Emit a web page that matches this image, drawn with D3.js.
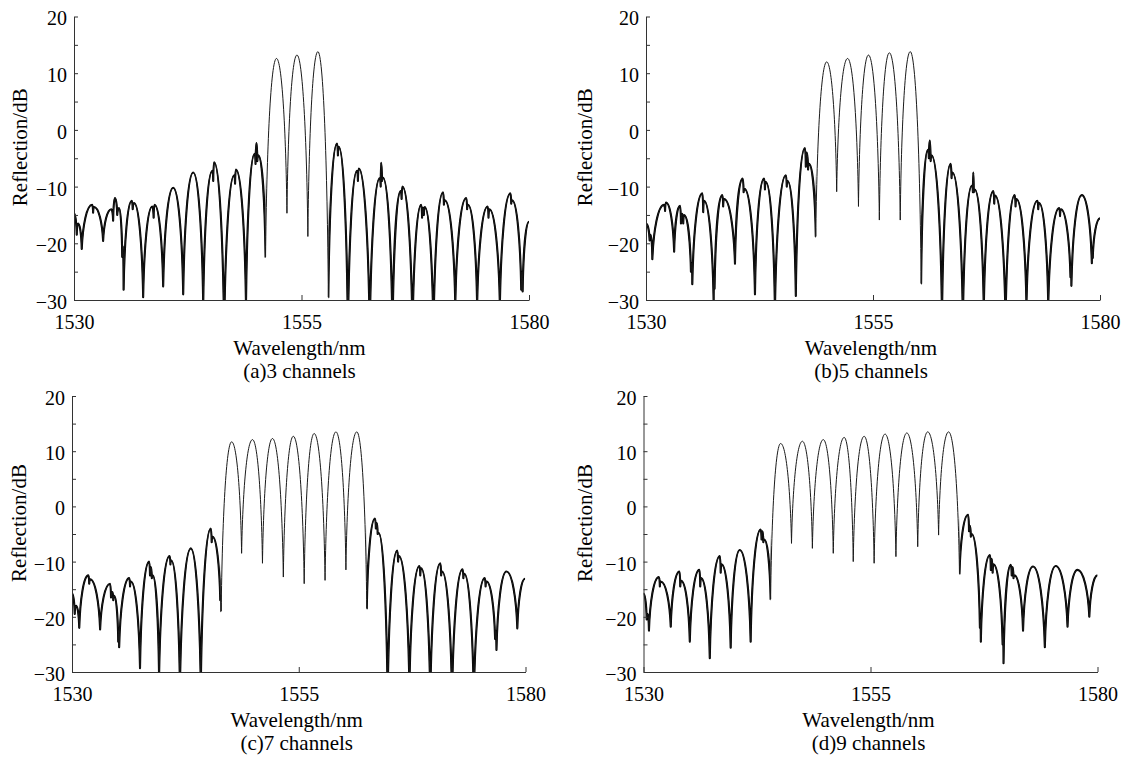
<!DOCTYPE html>
<html>
<head>
<meta charset="utf-8">
<script src="https://cdn.jsdelivr.net/npm/d3@7"></script>
<style>
  body { margin: 0; background: #fff; }
  svg { display: block; }
  text { font-family: "Liberation Serif", "Times New Roman", serif; fill: #000; }
  .tick text { font-size: 20px; }
  .axis path, .axis line { stroke: #333; stroke-width: 1; }
  .spectrum { fill: none; stroke: #1a1a1a; stroke-width: 1; stroke-linejoin: round; }
  .noisy { fill: none; stroke: #000; stroke-width: 2.1; stroke-linejoin: round; }
</style>
</head>
<body>
<svg id="chart" width="1131" height="759"></svg>
<script>
// axis setup shared by all four panels
const wlDomain = [1530, 1580];
const dbDomain = [-30, 20];
const xTicks = [1530, 1555, 1580];
const yTicks = [-30, -25, -20, -15, -10, -5, 0, 5, 10, 15, 20];
const xTitle = 'Wavelength/nm';
const yTitle = 'Reflection/dB';
const captions = ['(a)3 channels', '(b)5 channels', '(c)7 channels', '(d)9 channels'];

// wavelength span of the clean channel lobes (outside it the trace is noisy)
const passbands = [[1551.05, 1557.95], [1548.7, 1560.3], [1546.4, 1562.5], [1544.0, 1564.8]];

// reflection spectra [wavelength nm, dB], read as alternating maxima / minima
const spec3 = [
  [1530.0, -14.7], [1530.3, -18.5], [1530.45, -16.5], [1530.85, -21.0],
  [1532.0, -13.2], [1532.1, -14.6], [1532.2, -13.6],
  [1533.2, -19.6],
  [1534.1, -14.0], [1534.3, -16.0], [1534.5, -12.0], [1534.75, -15.0], [1534.95, -13.8],
  [1535.3, -22.4], [1535.38, -20.5], [1535.45, -28.2],
  [1536.35, -12.5], [1536.45, -14.0], [1536.6, -12.9],
  [1537.6, -29.5],
  [1538.6, -13.5], [1538.75, -15.5], [1538.85, -13.2],
  [1539.8, -27.6],
  [1540.9, -10.2],
  [1542.0, -29.0],
  [1543.1, -7.5],
  [1544.2, -31.0],
  [1545.2, -7.2], [1545.3, -9.0], [1545.4, -5.7],
  [1546.5, -36.0],
  [1547.6, -8.0], [1547.7, -9.5], [1547.8, -7.0],
  [1548.9, -31.0],
  [1549.85, -4.2], [1549.95, -6.0], [1550.05, -2.3], [1550.15, -5.5], [1550.25, -4.5],
  [1551.05, -22.4],
  [1552.25, 12.6],
  [1553.4, -14.7],
  [1554.5, 13.2],
  [1555.7, -18.8],
  [1556.8, 13.8],
  [1557.95, -29.5],
  [1558.9, -2.4], [1559.0, -4.5], [1559.1, -3.0],
  [1560.1, -36.0],
  [1561.1, -7.2], [1561.2, -9.0], [1561.3, -6.8],
  [1562.5, -36.0],
  [1563.6, -8.5], [1563.7, -10.0], [1563.75, -5.8], [1563.85, -9.0], [1563.95, -8.4],
  [1565.0, -36.0],
  [1565.9, -10.8], [1566.0, -12.2], [1566.1, -10.0],
  [1567.2, -36.0],
  [1568.15, -13.2], [1568.25, -15.5], [1568.35, -13.7], [1568.45, -15.0], [1568.55, -13.6],
  [1569.5, -36.0],
  [1570.55, -11.0], [1570.65, -13.2], [1570.75, -12.4],
  [1571.9, -31.0],
  [1573.1, -12.0], [1573.2, -14.0], [1573.3, -13.2],
  [1574.3, -31.0],
  [1575.45, -13.5], [1575.55, -15.5], [1575.65, -14.0],
  [1576.8, -31.0],
  [1577.95, -11.2], [1578.05, -13.0], [1578.15, -12.4],
  [1579.15, -28.2], [1579.25, -25.0], [1579.3, -28.5],
  [1580.0, -16.2]
];

const spec5 = [
  [1530.0, -16.5], [1530.4, -19.5], [1530.5, -18.5], [1530.7, -22.8],
  [1532.0, -13.2], [1532.1, -14.3], [1532.2, -12.8],
  [1533.1, -21.5],
  [1533.75, -13.4], [1533.85, -16.5], [1534.0, -14.8], [1534.1, -16.5], [1534.2, -15.0],
  [1534.95, -25.0], [1535.05, -23.5], [1535.1, -27.2],
  [1536.2, -11.2], [1536.3, -14.5], [1536.4, -12.5],
  [1537.45, -30.5], [1537.5, -26.0], [1537.55, -28.0],
  [1538.4, -11.5], [1538.5, -13.5], [1538.6, -12.2],
  [1539.8, -23.6],
  [1540.65, -8.6], [1540.75, -11.0], [1540.85, -10.4],
  [1542.0, -29.0],
  [1543.0, -8.6], [1543.1, -10.5], [1543.2, -9.2],
  [1544.2, -32.0],
  [1545.4, -8.0], [1545.5, -10.0], [1545.6, -9.0],
  [1546.5, -29.3],
  [1547.5, -3.2], [1547.6, -6.5], [1547.7, -4.0], [1547.85, -7.0], [1547.95, -6.0],
  [1548.7, -18.8],
  [1549.9, 12.0],
  [1551.0, -10.9],
  [1552.2, 12.6],
  [1553.4, -13.5],
  [1554.5, 13.2],
  [1555.7, -15.9],
  [1556.8, 13.6],
  [1558.0, -15.9],
  [1559.1, 13.8],
  [1560.3, -27.1],
  [1561.05, -3.5], [1561.15, -5.0], [1561.25, -1.9], [1561.35, -5.5], [1561.45, -4.5],
  [1562.6, -33.0],
  [1563.55, -6.0], [1563.65, -8.5], [1563.75, -7.5],
  [1564.9, -34.0],
  [1565.9, -9.8], [1566.0, -11.0], [1566.05, -7.5], [1566.1, -11.0], [1566.2, -10.5],
  [1567.2, -32.0],
  [1568.25, -10.8], [1568.35, -13.0], [1568.45, -11.6],
  [1569.6, -34.0],
  [1570.6, -11.5], [1570.7, -13.5], [1570.8, -12.2],
  [1571.9, -31.0],
  [1573.1, -12.5], [1573.2, -14.0], [1573.3, -12.9],
  [1574.3, -31.0],
  [1575.5, -13.8], [1575.6, -15.2], [1575.7, -14.0],
  [1576.75, -26.0], [1576.8, -24.0], [1576.85, -27.5],
  [1578.0, -11.5],
  [1579.1, -23.5], [1579.15, -21.0], [1579.2, -22.6],
  [1580.0, -15.6]
];

const spec7 = [
  [1530.0, -15.8], [1530.3, -19.5], [1530.45, -18.0], [1530.8, -22.0],
  [1531.8, -12.5], [1531.9, -14.0], [1532.0, -13.2],
  [1533.1, -22.3],
  [1534.2, -14.0], [1534.3, -16.5], [1534.45, -15.5], [1534.55, -17.0], [1534.65, -16.2],
  [1535.1, -24.5], [1535.15, -22.5], [1535.2, -25.5],
  [1536.3, -13.0], [1536.4, -14.5], [1536.5, -13.6],
  [1537.5, -29.3],
  [1538.5, -10.0], [1538.6, -12.5], [1538.7, -11.0], [1538.8, -13.0], [1538.9, -12.5],
  [1539.6, -31.0],
  [1540.75, -9.0], [1540.85, -10.5], [1540.95, -9.8],
  [1541.9, -33.0],
  [1543.1, -7.6],
  [1544.2, -33.0],
  [1545.3, -4.0], [1545.4, -6.5], [1545.5, -5.5],
  [1546.35, -17.0], [1546.4, -16.0], [1546.45, -19.0],
  [1547.6, 11.7],
  [1548.7, -8.5],
  [1549.9, 12.1],
  [1551.0, -10.3],
  [1552.1, 12.3],
  [1553.3, -12.8],
  [1554.4, 12.7],
  [1555.6, -14.0],
  [1556.7, 13.2],
  [1557.9, -13.4],
  [1559.1, 13.5],
  [1560.2, -11.5],
  [1561.4, 13.5],
  [1562.5, -18.5],
  [1563.4, -2.2], [1563.5, -4.0], [1563.6, -3.0], [1563.7, -5.0], [1563.8, -4.8],
  [1564.8, -35.0],
  [1565.85, -8.0], [1565.95, -10.0], [1566.05, -9.0],
  [1567.2, -33.0],
  [1568.3, -10.8], [1568.4, -12.5], [1568.5, -11.2],
  [1569.5, -35.0],
  [1570.6, -10.3], [1570.7, -12.5], [1570.8, -11.8],
  [1571.9, -35.0],
  [1573.05, -11.4], [1573.15, -13.0], [1573.25, -12.2],
  [1574.3, -35.0],
  [1575.5, -13.0], [1575.6, -14.5], [1575.7, -13.6],
  [1576.65, -24.0], [1576.7, -22.5], [1576.8, -26.0],
  [1577.9, -11.8],
  [1579.1, -22.1],
  [1579.95, -13.1]
];

const spec9 = [
  [1530.0, -15.8], [1530.35, -20.5], [1530.45, -19.5], [1530.6, -22.5],
  [1531.7, -12.8], [1531.8, -14.5], [1531.9, -13.6],
  [1533.0, -21.8],
  [1533.95, -11.8], [1534.05, -14.5], [1534.15, -13.5],
  [1535.1, -24.5],
  [1536.15, -11.5], [1536.25, -14.5], [1536.35, -13.0],
  [1537.3, -27.5],
  [1538.4, -9.0], [1538.5, -12.0], [1538.6, -10.5],
  [1539.6, -25.6],
  [1540.6, -7.9],
  [1541.8, -24.5],
  [1542.9, -4.2], [1543.0, -6.0], [1543.1, -4.5], [1543.2, -6.5], [1543.3, -6.0],
  [1544.0, -16.8],
  [1545.1, 11.4],
  [1546.3, -6.7],
  [1547.5, 11.8],
  [1548.6, -7.6],
  [1549.8, 12.1],
  [1550.9, -8.5],
  [1552.1, 12.5],
  [1553.1, -10.0],
  [1554.3, 12.7],
  [1555.4, -10.3],
  [1556.6, 13.1],
  [1557.8, -9.1],
  [1559.0, 13.3],
  [1560.2, -7.3],
  [1561.3, 13.5],
  [1562.5, -5.2],
  [1563.6, 13.5],
  [1564.8, -12.2],
  [1565.75, -1.5], [1565.85, -4.5], [1565.95, -3.5], [1566.05, -5.5], [1566.15, -5.0],
  [1567.05, -22.0], [1567.1, -20.5], [1567.15, -24.5],
  [1568.15, -8.8], [1568.25, -11.5], [1568.35, -9.5], [1568.45, -12.0], [1568.55, -10.5],
  [1569.55, -25.0], [1569.6, -23.0], [1569.65, -28.4],
  [1570.45, -10.6], [1570.55, -12.5], [1570.65, -11.0], [1570.75, -13.0], [1570.85, -12.5],
  [1571.8, -22.5],
  [1572.9, -10.9],
  [1574.2, -25.5],
  [1575.4, -10.8],
  [1576.7, -21.8],
  [1577.8, -11.5],
  [1579.1, -20.0],
  [1580.0, -12.5]
];

// pixel boxes of the four plot areas
const boxes = [
  {left: 74, right: 529, top: 16.5, bottom: 300, titleX: 27},
  {left: 646, right: 1100, top: 16.5, bottom: 300, titleX: 592},
  {left: 72, right: 525.5, top: 396, bottom: 672, titleX: 26},
  {left: 643.5, right: 1097.5, top: 396, bottom: 672, titleX: 592}
];
const spectra = [spec3, spec5, spec7, spec9];

// curve with rounded lobe tops and sharp notches at the minima
function LobeCurve(context) { this._context = context; }
LobeCurve.prototype = {
  areaStart() {}, areaEnd() {},
  lineStart() { this._n = 0; },
  lineEnd() {},
  point(x, y) {
    x = +x; y = +y;
    if (this._n++ === 0) this._context.moveTo(x, y);
    else {
      let dx = x - this._x, dy = y - this._y;
      if (dy < 0) this._context.bezierCurveTo(this._x + dx * 0.1, this._y + dy * 0.55, x - dx * 0.5, y, x, y);
      else this._context.bezierCurveTo(this._x + dx * 0.5, this._y, x - dx * 0.1, y - dy * 0.55, x, y);
    }
    this._x = x; this._y = y;
  }
};
const curveLobe = ctx => new LobeCurve(ctx);

const svg = d3.select('#chart');
const defs = svg.append('defs');
const fmt = d3.format('d');

function drawPanel(box, data, band, caption, i) {
  let x = d3.scaleLinear().domain(wlDomain).range([box.left, box.right]);
  let y = d3.scaleLinear().domain(dbDomain).range([box.bottom, box.top]);
  let top = box.top - 10, h = box.bottom - top;

  // whole plot area
  defs.append('clipPath')
    .attr('id', 'clip' + i)
    .append('rect')
    .attr('x', box.left).attr('y', top)
    .attr('width', box.right - box.left).attr('height', h);

  // only the noisy wings either side of the passband
  let wings = defs.append('clipPath').attr('id', 'wings' + i);
  wings.append('rect')
    .attr('x', box.left).attr('y', top)
    .attr('width', x(band[0]) - box.left).attr('height', h);
  wings.append('rect')
    .attr('x', x(band[1])).attr('y', top)
    .attr('width', box.right - x(band[1])).attr('height', h);

  let line = d3.line()
    .x(d => x(d[0]))
    .y(d => y(d[1]))
    .curve(curveLobe);

  svg.append('path')
    .datum(data)
    .attr('class', 'noisy')
    .attr('clip-path', 'url(#wings' + i + ')')
    .attr('d', line);

  svg.append('path')
    .datum(data)
    .attr('class', 'spectrum')
    .attr('clip-path', 'url(#clip' + i + ')')
    .attr('d', line);

  let yAxis = d3.axisLeft(y)
    .tickValues(yTicks)
    .tickSizeInner(-4)
    .tickSizeOuter(0)
    .tickPadding(7)
    .tickFormat(d => d % 10 === 0 ? fmt(d) : '');
  svg.append('g')
    .attr('class', 'axis')
    .attr('transform', `translate(${box.left},0)`)
    .call(yAxis)
    .selectAll('text').attr('dy', '0.42em');

  let xAxis = d3.axisBottom(x)
    .tickValues(xTicks)
    .tickSizeInner(-5)
    .tickSizeOuter(0)
    .tickPadding(15)
    .tickFormat(fmt);
  svg.append('g')
    .attr('class', 'axis')
    .attr('transform', `translate(0,${box.bottom})`)
    .call(xAxis);

  let cx = (box.left + box.right) / 2 - 2;
  svg.append('text')
    .attr('x', cx)
    .attr('y', box.bottom + 55)
    .attr('text-anchor', 'middle')
    .style('font-size', '21px')
    .text(xTitle);
  svg.append('text')
    .attr('x', cx)
    .attr('y', box.bottom + 78)
    .attr('text-anchor', 'middle')
    .style('font-size', '21px')
    .text(caption);
  svg.append('text')
    .attr('transform', `translate(${box.titleX},${(box.top + box.bottom) / 2 - 11}) rotate(-90)`)
    .attr('text-anchor', 'middle')
    .style('font-size', '21px')
    .text(yTitle);
}

boxes.forEach((b, i) => drawPanel(b, spectra[i], passbands[i], captions[i], i));
</script>
</body>
</html>
